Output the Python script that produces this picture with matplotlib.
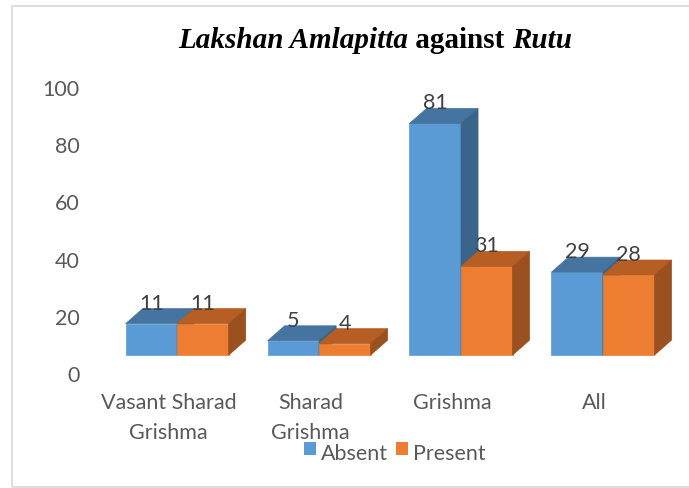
import matplotlib
matplotlib.use("Agg")
import matplotlib.pyplot as plt
from matplotlib.patches import Polygon, Rectangle

# chart data
categories = ["Vasant Sharad\nGrishma", "Sharad\nGrishma", "Grishma", "All"]
absent = [11, 5, 81, 29]
present = [11, 4, 31, 28]
series_names = ["Absent", "Present"]
yticks = [0, 20, 40, 60, 80, 100]

# colours: front, top, side
blue = ("#5B9BD5", "#44749F", "#3A6489")
orange = ("#ED7D31", "#B65E24", "#9B501F")
grey = "#595959"

W, H = 689, 488
fig = plt.figure(figsize=(W / 100, H / 100), dpi=100)
fig.patch.set_facecolor("white")

# chart frame
fig.add_artist(Rectangle((12 / W, 1 / H), 1.0, 481 / H, transform=fig.transFigure,
                         fill=False, edgecolor="#d9d9d9", lw=1.2))

ax = fig.add_axes([92 / W, 114 / H, 589 / W, 286 / H])
ax.set_xlim(-0.6, 3.55)
ax.set_ylim(0, 100)
for s in ax.spines.values():
    s.set_visible(False)
ax.set_xticks([])
ax.set_yticks(yticks)
ax.set_yticklabels([str(t) for t in yticks], fontsize=15.5, color=grey, family="Lato")
ax.tick_params(axis="y", length=0, pad=9)

bw = 0.363   # bar width
dx = 0.12    # depth offset x
dy = 5.25    # depth offset y
base = 6.6   # front floor offset


def bar3d(x0, v, cols):
    x1 = x0 + bw
    top = base + v
    front = Polygon([(x0, base), (x1, base), (x1, top), (x0, top)], closed=True,
                    facecolor=cols[0], edgecolor=cols[0], lw=0.5)
    lid = Polygon([(x0, top), (x1, top), (x1 + dx, top + dy), (x0 + dx, top + dy)],
                  closed=True, facecolor=cols[1], edgecolor=cols[1], lw=0.5)
    side = Polygon([(x1, base), (x1 + dx, base + dy), (x1 + dx, top + dy), (x1, top)],
                   closed=True, facecolor=cols[2], edgecolor=cols[2], lw=0.5)
    for p in (front, lid, side):
        p.set_clip_on(False)
        ax.add_patch(p)
    ax.text(x0 + bw / 2, top + dy + 1.8, str(v), ha="center", va="center",
            fontsize=15.5, color="#404040", family="Lato")


for i in range(len(categories)):
    bar3d(i - bw, absent[i], blue)
    bar3d(i, present[i], orange)
    ax.text(i - 0.06, -6.6, categories[i], ha="center", va="top", fontsize=15.5,
            color=grey, family="Lato", linespacing=1.65, clip_on=False)

# legend
lx = 304
for name, cols in zip(series_names, (blue, orange)):
    fig.add_artist(Rectangle((lx / W, (H - 455) / H), 12 / W, 13 / H,
                             transform=fig.transFigure, facecolor=cols[0], edgecolor="none"))
    t = fig.text((lx + 17) / W, (H - 454) / H, name, ha="left", va="center",
                 fontsize=15.5, color=grey, family="Lato")
    fig.canvas.draw()
    bb = t.get_window_extent()
    lx = bb.x1 + 8

# title with mixed italic / bold parts
parts = [("Lakshan Amlapitta", "italic"), (" against ", "normal"), ("Rutu", "italic")]
renderer = fig.canvas.get_renderer()
texts = []
for s, style in parts:
    t = fig.text(0, (H - 40) / H, s, fontsize=21, fontweight="bold", style=style,
                 family="Liberation Serif", ha="left", va="center")
    texts.append(t)
total = sum(t.get_window_extent(renderer).width for t in texts)
x = 375 - total / 2
for t in texts:
    t.set_x(x / W)
    x += t.get_window_extent(renderer).width

fig.savefig("out.png", dpi=100)
